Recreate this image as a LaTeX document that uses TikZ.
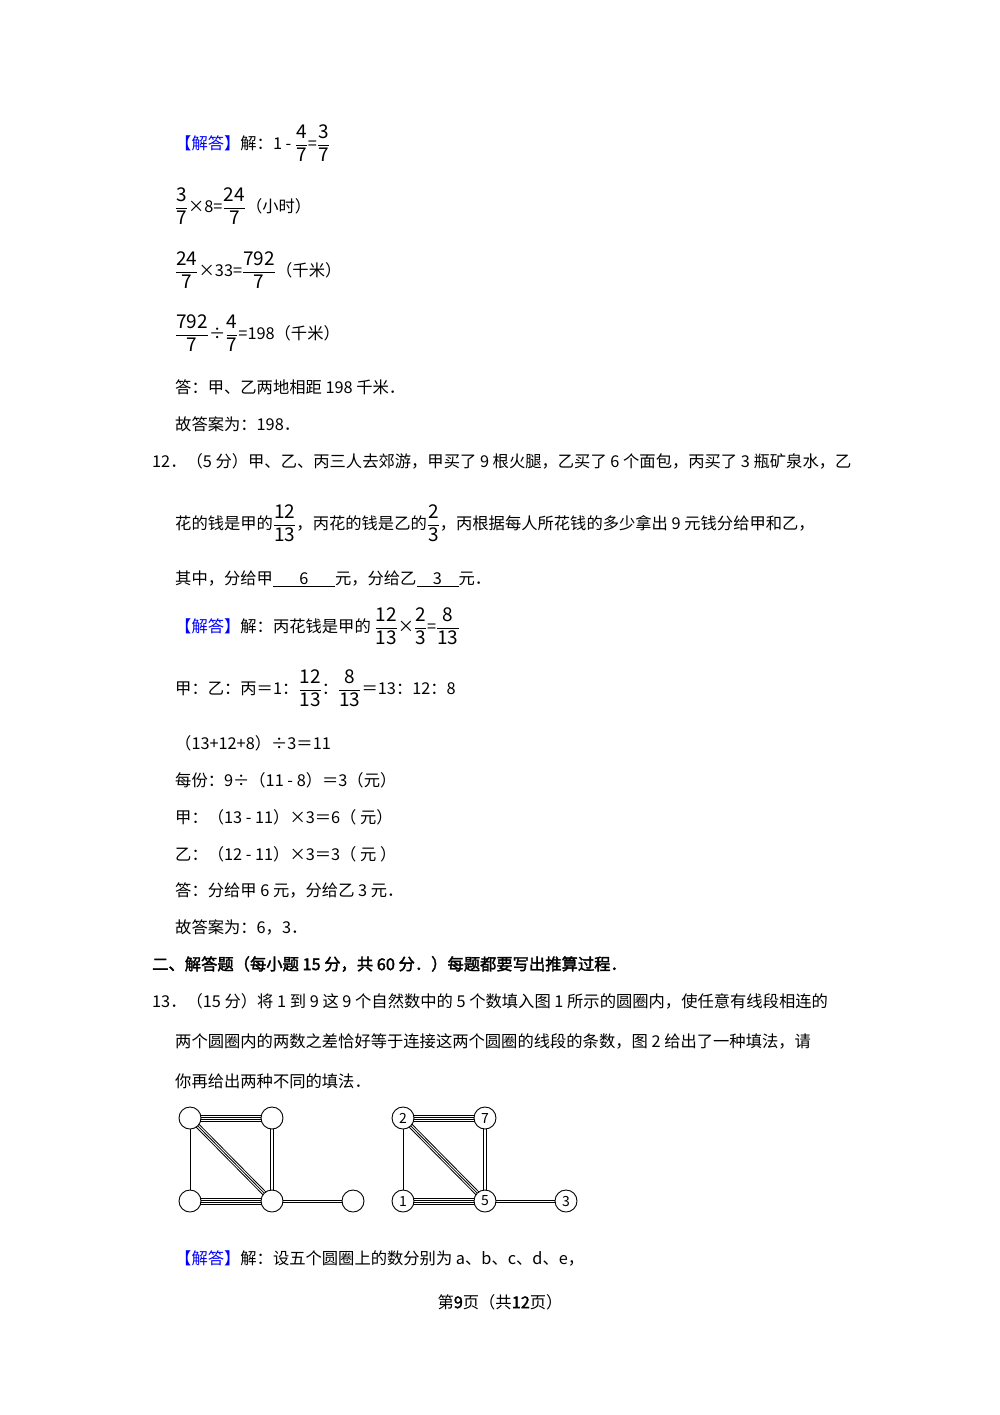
\documentclass[tikz,border=0pt]{standalone}
\usepackage{fontspec}
\setmainfont{Noto Sans CJK SC}
\newfontfamily\cjkbold[FakeBold=2]{Noto Sans CJK SC}
\usetikzlibrary{calc}
\definecolor{ansblue}{RGB}{0,0,255}
\newcommand{\fr}[2]{$\displaystyle\frac{\mbox{\fontsize{19}{19}\selectfont #1}}{\mbox{\fontsize{19}{19}\selectfont #2}}$}
\newcommand{\jd}{{\color{ansblue}【解答】}}
\tikzset{tx/.style={anchor=west,inner sep=0pt,font=\fontsize{16.3}{18}\selectfont},
 circ/.style={circle,draw,fill=white,minimum size=22pt,inner sep=0pt,line width=0.9pt,font=\fontsize{14}{14}\selectfont}}
\newcommand{\ml}[3]{\foreach \o in {#3}{\draw[line width=0.8pt] ($(#1)!\o pt!90:(#2)$) -- ($(#2)!\o pt!-90:(#1)$);}}
\begin{document}
\begin{tikzpicture}[x=1pt,y=-1pt]
\useasboundingbox[fill=white] (0,0) rectangle (1000,1415);
\node[tx] (l1) at (175,143) {\jd 解：1 - \fr{4}{7}=\fr{3}{7}};
\node[tx] (l2) at (175,206) {\fr{3}{7}×8=\fr{24}{7}（小时）};
\node[tx] (l3) at (175,270) {\fr{24}{7}×33=\fr{792}{7}（千米）};
\node[tx] (l4) at (175,333) {\fr{792}{7}÷\fr{4}{7}=198（千米）};
\node[tx] (l5) at (175,387) {答：甲、乙两地相距 198 千米．};
\node[tx] (l6) at (175,424) {故答案为：198．};
\node[tx] (l7) at (152,461) {12．（5 分）甲、乙、丙三人去郊游，甲买了 9 根火腿，乙买了 6 个面包，丙买了 3 瓶矿泉水，乙};
\node[tx] (l8) at (175,523) {花的钱是甲的\fr{12}{13}，丙花的钱是乙的\fr{2}{3}，丙根据每人所花钱的多少拿出 9 元钱分给甲和乙，};
\node[tx] (l9) at (175,579) {其中，分给甲\underline{\makebox[62pt]{6}}元，分给乙\underline{\makebox[42pt]{3}}元．};
\node[tx] (l10) at (175,626) {\jd 解：丙花钱是甲的 \fr{12}{13}×\fr{2}{3}=\fr{8}{13}};
\node[tx] (l11) at (175,688) {甲：乙：丙＝1：\fr{12}{13}：\fr{8}{13}＝13：12：8};
\node[tx] (l12) at (175,743) {（13+12+8）÷3＝11};
\node[tx] (l13) at (175,780) {每份：9÷（11 - 8）＝3（元）};
\node[tx] (l14) at (175,817) {甲：（13 - 11）×3＝6（ 元）};
\node[tx] (l15) at (175,854) {乙：（12 - 11）×3＝3（ 元 ）};
\node[tx] (l16) at (175,890) {答：分给甲 6 元，分给乙 3 元．};
\node[tx] (l17) at (175,927) {故答案为：6，3．};
\node[tx] (l18) at (152,964) {\cjkbold 二、解答题（每小题 15 分，共 60 分．）每题都要写出推算过程．};
\node[tx] (l19) at (152,1001) {13．（15 分）将 1 到 9 这 9 个自然数中的 5 个数填入图 1 所示的圆圈内，使任意有线段相连的};
\node[tx] (l20) at (175,1041) {两个圆圈内的两数之差恰好等于连接这两个圆圈的线段的条数，图 2 给出了一种填法，请};
\node[tx] (l21) at (175,1081) {你再给出两种不同的填法．};
\node[tx] (l22) at (175,1258) {\jd 解：设五个圆圈上的数分别为 \textit{a}、\textit{b}、\textit{c}、\textit{d}、\textit{e}，};
\node[tx,anchor=center] (pg) at (500,1302) {第{\cjkbold 9}页（共{\cjkbold 12}页）};
% graphs
\foreach \p/\dx in {A/0,B/213}{
 \coordinate (\p1) at (190+\dx,1118);
 \coordinate (\p2) at (272+\dx,1118);
 \coordinate (\p3) at (190+\dx,1201);
 \coordinate (\p4) at (272+\dx,1201);
 \coordinate (\p5) at (353+\dx,1201);
 \ml{\p1}{\p2}{-3,-1,1,3}
 \ml{\p1}{\p4}{-2,0,2}
 \ml{\p2}{\p4}{-1.5,1.5}
 \ml{\p1}{\p3}{0}
 \ml{\p3}{\p4}{-3,-1,1,3}
 \ml{\p4}{\p5}{-1,1}
}
\foreach \i in {1,...,5}{\node[circ] (a\i) at (A\i) {};}
\node[circ] (b1) at (B1) {2};
\node[circ] (b2) at (B2) {7};
\node[circ] (b3) at (B3) {1};
\node[circ] (b4) at (B4) {5};
\node[circ] (b5) at (B5) {3};
\end{tikzpicture}
\end{document}
